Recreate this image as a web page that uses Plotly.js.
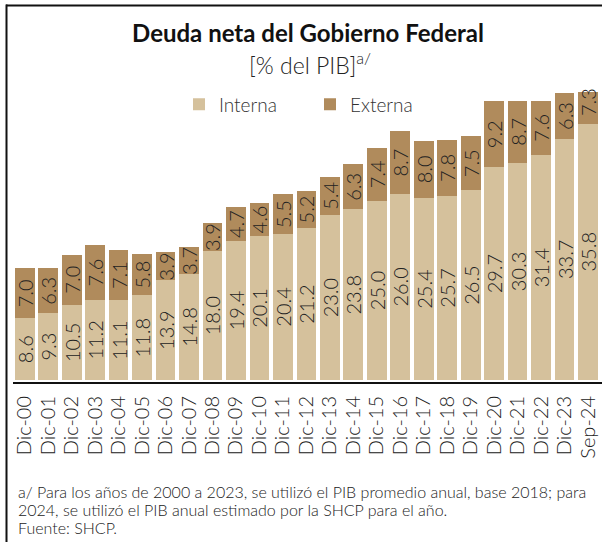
<!DOCTYPE html>
<html>
<head>
<meta charset="utf-8">
<script src="https://cdn.plot.ly/plotly-3.0.1.min.js"></script>
<style>html,body{margin:0;padding:0;background:#fff;}#chart{width:602px;height:542px;}</style>
</head>
<body>
<div id="chart"></div>
<script>
const categories = ["Dic-00","Dic-01","Dic-02","Dic-03","Dic-04","Dic-05","Dic-06","Dic-07","Dic-08","Dic-09","Dic-10","Dic-11","Dic-12","Dic-13","Dic-14","Dic-15","Dic-16","Dic-17","Dic-18","Dic-19","Dic-20","Dic-21","Dic-22","Dic-23","Sep-24"];
const interna = [8.6,9.3,10.5,11.2,11.1,11.8,13.9,14.8,18.0,19.4,20.1,20.4,21.2,23.0,23.8,25.0,26.0,25.4,25.7,26.5,29.7,30.3,31.4,33.7,35.8];
const externa = [7.0,6.3,7.0,7.6,7.1,5.8,3.9,3.7,3.9,4.7,4.6,5.5,5.2,5.4,6.3,7.4,8.7,8.0,7.8,7.5,9.2,8.7,7.6,6.3,7.3];
const footnotes = [
  "a/ Para los años de 2000 a 2023, se utilizó el PIB promedio anual, base 2018; para",
  "2024, se utilizó el PIB anual estimado por la SHCP para el año.",
  "Fuente: SHCP."
];

const W = 602, H = 542;
const mL = 13, mR = 0, mT = 92, mB = 162;
const pw = W - mL - mR, ph = H - mT - mB;
const px2x = p => (p - mL) / pw;
const py2y = p => (H - mB - p) / ph;
const yMax = 40.2;

const lightFont = "Lato";
const txtColor = "#222";
const labelFont = {family: lightFont, size: 20, weight: 300, color: txtColor};

// labels of bars whose segment runs past the clipped top are drawn in the visible part
const extText = externa.map((v, i) => (interna[i] + v > yMax ? "" : v.toFixed(1)));
const clippedLabels = externa
  .map((v, i) => ({v, i}))
  .filter(d => interna[d.i] + d.v > yMax)
  .map(d => ({
    text: d.v.toFixed(1), xref: "x", yref: "y",
    x: categories[d.i], y: (interna[d.i] + yMax) / 2 + 0.8,
    textangle: -90, showarrow: false, xanchor: "center", yanchor: "middle",
    font: labelFont
  }));

const footAnn = footnotes.map((t, k) => ({
  text: t, xref: "paper", yref: "paper", x: px2x(17), y: py2y(491 + 18 * k),
  xanchor: "left", yanchor: "middle", align: "left", showarrow: false, borderpad: 0,
  font: {family: lightFont, size: 16, weight: 300, color: "#222"}
}));

const common = {
  type: "bar",
  x: categories,
  textposition: "inside",
  insidetextanchor: "middle",
  textangle: -90,
  constraintext: "none",
  cliponaxis: true,
  hoverinfo: "skip"
};

const data = [
  Object.assign({}, common, {
    name: "Interna", y: interna, text: interna.map(v => v.toFixed(1)),
    marker: {color: "#d5c19c", line: {width: 0}},
    textfont: labelFont
  }),
  Object.assign({}, common, {
    name: "Externa", y: externa, text: extText,
    marker: {color: "#b08b5c", line: {width: 0}},
    textfont: labelFont
  })
];

const layout = {
  width: W, height: H,
  margin: {l: mL, r: mR, t: mT, b: mB, pad: 0},
  paper_bgcolor: "#fff", plot_bgcolor: "#fff",
  barmode: "stack",
  bargap: 0.16,
  showlegend: true,
  legend: {
    orientation: "h", x: px2x(179), xanchor: "left",
    y: py2y(104.5), yanchor: "middle",
    entrywidth: 86, entrywidthmode: "pixels",
    font: {family: lightFont, size: 19, weight: 300, color: "#333"},
    bgcolor: "rgba(0,0,0,0)", traceorder: "normal"
  },
  title: {
    text: "<b>Deuda neta del Gobierno Federal</b>",
    x: px2x(308), xanchor: "center", xref: "paper",
    y: 1 - 33.5 / H, yanchor: "middle", yref: "container",
    font: {family: "Lato", size: 24, weight: 700, color: "#111"}
  },
  xaxis: {
    type: "category",
    tickmode: "linear", tick0: 0, dtick: 1,
    tickangle: -90,
    tickfont: {family: lightFont, size: 20, weight: 300, color: txtColor},
    showline: false, showgrid: false, zeroline: false, ticks: "",
    ticklabelstandoff: 11,
    fixedrange: true
  },
  yaxis: {
    visible: false, range: [0, yMax], showgrid: false, zeroline: false, fixedrange: true
  },
  annotations: [
    {
      text: "[% del PIB]<sup>a/</sup>",
      xref: "paper", yref: "paper", x: px2x(310), y: py2y(64),
      xanchor: "center", yanchor: "middle", showarrow: false,
      font: {family: lightFont, size: 23, weight: 300, color: "#222"}
    }
  ].concat(footAnn, clippedLabels),
  shapes: [
    {type: "line", xref: "paper", yref: "paper", x0: 0, x1: 1.01, y0: py2y(383), y1: py2y(383), line: {color: "#111", width: 2}},
    {type: "line", xref: "paper", yref: "paper", x0: px2x(6), x1: px2x(603), y0: py2y(5.5), y1: py2y(5.5), line: {color: "#111", width: 2}},
    {type: "line", xref: "paper", yref: "paper", x0: px2x(6.5), x1: px2x(6.5), y0: py2y(4.5), y1: py2y(543), line: {color: "#111", width: 2}}
  ]
};

Plotly.newPlot("chart", data, layout, {displayModeBar: false, staticPlot: true});
</script>
</body>
</html>
